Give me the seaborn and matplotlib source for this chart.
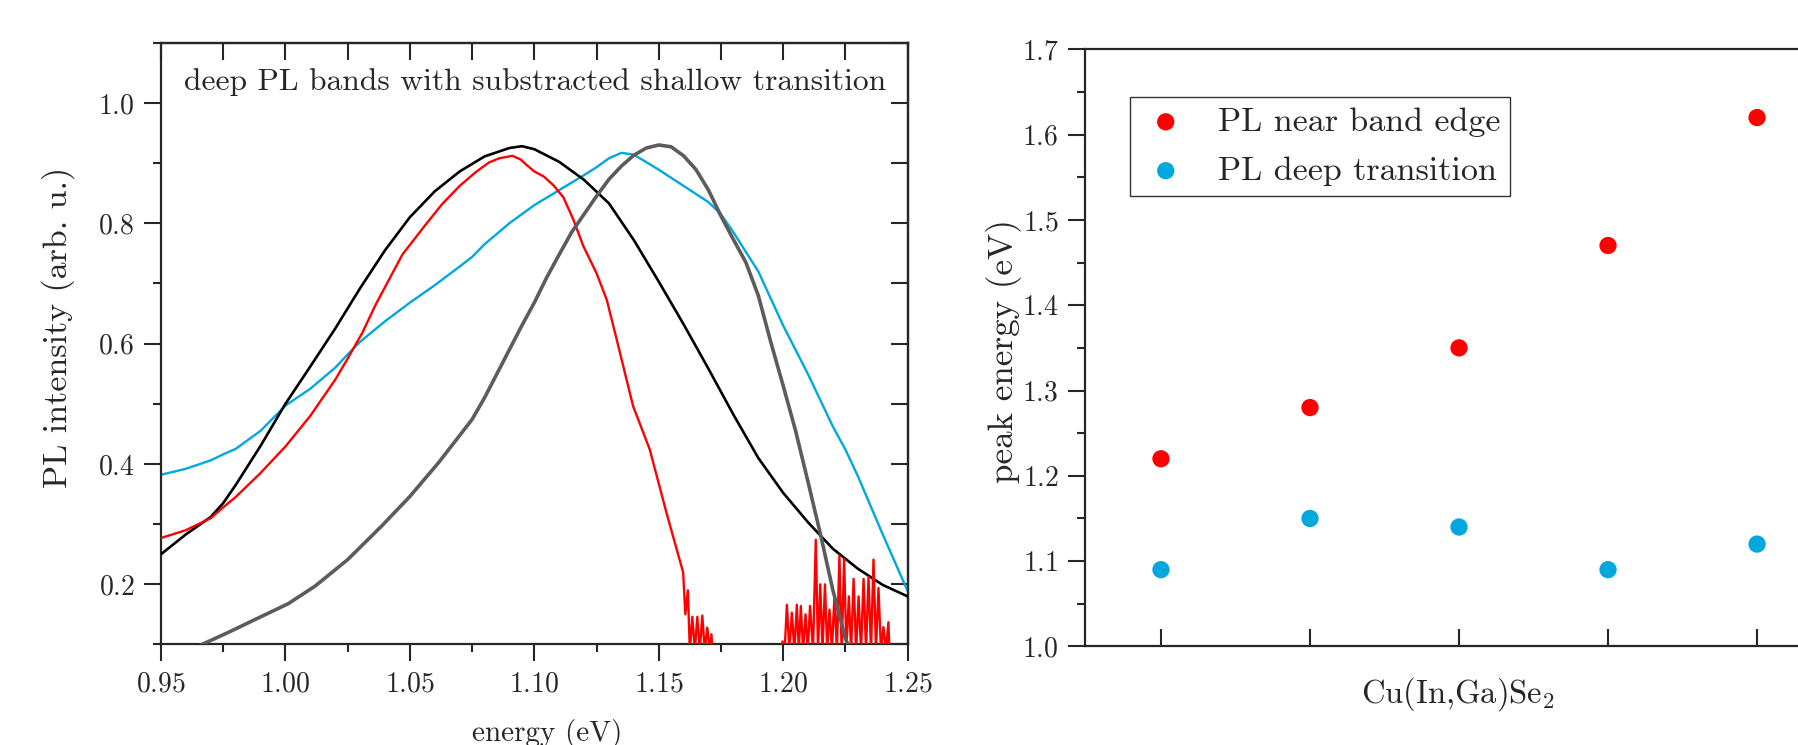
import numpy as np
import matplotlib
matplotlib.use("Agg")
import matplotlib.pyplot as plt
import seaborn as sns
from matplotlib.ticker import MultipleLocator, FixedLocator

# ---------------- data ----------------
black_E = [0.95, 0.96, 0.97, 0.975, 0.98, 0.99, 1.00, 1.01, 1.02, 1.03, 1.04, 1.05,
           1.06, 1.07, 1.08, 1.09, 1.095, 1.10, 1.11, 1.12, 1.13, 1.14, 1.15, 1.16,
           1.17, 1.18, 1.19, 1.20, 1.21, 1.22, 1.23, 1.24, 1.25]
black_I = [0.250, 0.283, 0.312, 0.335, 0.365, 0.430, 0.500, 0.562, 0.625, 0.692, 0.755, 0.810,
           0.853, 0.886, 0.911, 0.925, 0.928, 0.923, 0.902, 0.872, 0.833, 0.772, 0.703, 0.632,
           0.558, 0.482, 0.410, 0.352, 0.303, 0.259, 0.226, 0.199, 0.180]

cyan_E = [0.95, 0.96, 0.97, 0.975, 0.98, 0.99, 1.00, 1.01, 1.02, 1.025, 1.03, 1.04, 1.05,
          1.06, 1.07, 1.075, 1.08, 1.09, 1.10, 1.11, 1.12, 1.125, 1.13, 1.135, 1.14, 1.15,
          1.16, 1.17, 1.175, 1.18, 1.19, 1.20, 1.21, 1.22, 1.225, 1.23, 1.24, 1.25]
cyan_I = [0.382, 0.392, 0.406, 0.416, 0.425, 0.455, 0.497, 0.525, 0.560, 0.582, 0.603, 0.637, 0.668,
          0.697, 0.728, 0.744, 0.765, 0.800, 0.830, 0.855, 0.880, 0.893, 0.908, 0.917, 0.914, 0.889,
          0.862, 0.835, 0.815, 0.785, 0.720, 0.630, 0.549, 0.462, 0.424, 0.380, 0.283, 0.189]

red_E = [0.95, 0.96, 0.97, 0.975, 0.98, 0.99, 1.00, 1.01, 1.02, 1.025, 1.0309, 1.0363, 1.047,
         1.0564, 1.063, 1.07, 1.0765, 1.0818, 1.086, 1.0912, 1.0945, 1.0966, 1.10, 1.1037,
         1.1077, 1.1117, 1.1157, 1.1197, 1.125, 1.1291, 1.1331, 1.1397, 1.1464, 1.1531, 1.1598,
         1.1607, 1.1617, 1.1625, 1.1635, 1.1645, 1.1655, 1.1665, 1.1675, 1.1685, 1.1695,
         1.1705, 1.1712, 1.172, 1.199,
         1.1997, 1.2006, 1.2015, 1.2025, 1.2035, 1.2045, 1.2055, 1.2063, 1.2071, 1.2080,
         1.2090, 1.2099, 1.2108, 1.2120, 1.2131, 1.2140, 1.2149, 1.2158, 1.2168, 1.2177,
         1.2186, 1.2196, 1.2206, 1.2216, 1.2226, 1.2235, 1.2245, 1.2254, 1.2264, 1.2273,
         1.2283, 1.2293, 1.2303, 1.2313, 1.2323, 1.2333, 1.2343, 1.2353, 1.2363, 1.2373,
         1.2383, 1.2393, 1.2403, 1.2413, 1.2423, 1.2430, 1.25]
red_I = [0.277, 0.290, 0.310, 0.328, 0.345, 0.385, 0.429, 0.480, 0.540, 0.575, 0.618, 0.665, 0.748,
         0.798, 0.832, 0.862, 0.885, 0.901, 0.908, 0.912, 0.906, 0.898, 0.886, 0.878,
         0.863, 0.843, 0.806, 0.762, 0.717, 0.673, 0.607, 0.496, 0.424, 0.319, 0.220,
         0.150, 0.190, 0.090, 0.146, 0.090, 0.146, 0.090, 0.148, 0.090, 0.128,
         0.090, 0.117, 0.050, 0.050,
         0.105, 0.090, 0.166, 0.090, 0.153, 0.090, 0.166, 0.090, 0.164, 0.090,
         0.150, 0.090, 0.164, 0.090, 0.274, 0.090, 0.200, 0.090, 0.200, 0.090,
         0.158, 0.090, 0.180, 0.090, 0.248, 0.090, 0.242, 0.090, 0.180, 0.090,
         0.209, 0.090, 0.180, 0.090, 0.209, 0.090, 0.212, 0.090, 0.241, 0.090,
         0.194, 0.090, 0.129, 0.090, 0.137, 0.050, 0.050]

gray_E = [0.95, 0.9664, 0.977, 0.9878, 1.0012, 1.0119, 1.025, 1.0387, 1.050, 1.0615, 1.075,
          1.08, 1.085, 1.09, 1.095, 1.10, 1.105, 1.11, 1.115, 1.12, 1.125, 1.13, 1.135,
          1.14, 1.145, 1.15, 1.155, 1.16, 1.165, 1.17, 1.175, 1.18, 1.185, 1.19, 1.195,
          1.20, 1.205, 1.21, 1.215, 1.22, 1.225, 1.23]
gray_I = [0.075, 0.100, 0.120, 0.1415, 0.168, 0.197, 0.241, 0.297, 0.346, 0.402, 0.474,
          0.510, 0.550, 0.590, 0.630, 0.668, 0.710, 0.748, 0.785, 0.815, 0.845, 0.873, 0.895,
          0.913, 0.925, 0.930, 0.927, 0.912, 0.889, 0.855, 0.812, 0.773, 0.735, 0.680, 0.603,
          0.530, 0.455, 0.370, 0.283, 0.190, 0.110, 0.060]

samples = [1, 2, 3, 4, 5]
near_edge = [1.22, 1.28, 1.35, 1.47, 1.62]
deep_trans = [1.09, 1.15, 1.14, 1.09, 1.12]

annotation = "deep PL bands with substracted shallow transition"

# ---------------- style ----------------
sns.set_style("ticks")
plt.rcParams["font.family"] = ["serif"]
plt.rcParams["font.serif"] = ["cmr10"]
plt.rcParams["mathtext.fontset"] = "cm"
plt.rcParams["axes.formatter.use_mathtext"] = True
plt.rcParams["axes.unicode_minus"] = False

RED = "#ff0000"
CYAN = "#00a8dd"
GRAY = "#5c5c5c"
TICK_FS = 20

fig = plt.figure(figsize=(17.99, 7.45), dpi=100)
ax1 = fig.add_axes([0.0895, 0.1349, 0.4150, 0.8078])
ax2 = fig.add_axes([0.6031, 0.1323, 0.4150, 0.8015])

# ---------------- left panel ----------------
sns.lineplot(x=cyan_E, y=cyan_I, ax=ax1, color=CYAN, linewidth=1.7, zorder=2)
sns.lineplot(x=black_E, y=black_I, ax=ax1, color="black", linewidth=1.9, zorder=3)
sns.lineplot(x=red_E, y=red_I, ax=ax1, color=RED, linewidth=1.7, zorder=4)
sns.lineplot(x=gray_E, y=gray_I, ax=ax1, color=GRAY, linewidth=2.6, zorder=5)

ax1.set_xlim(0.95, 1.25)
ax1.set_ylim(0.1, 1.1)
ax1.xaxis.set_major_locator(MultipleLocator(0.05))
ax1.xaxis.set_minor_locator(MultipleLocator(0.025))
ax1.yaxis.set_major_locator(MultipleLocator(0.2))
ax1.yaxis.set_minor_locator(MultipleLocator(0.1))
ax1.tick_params(which="major", direction="out", length=12, width=1.5,
                labelsize=TICK_FS, pad=7)
ax1.tick_params(which="minor", direction="out", length=6, width=1.5)
for s in ax1.spines.values():
    s.set_linewidth(1.6)

top = ax1.secondary_xaxis("top")
top.xaxis.set_major_locator(MultipleLocator(0.025))
top.tick_params(direction="in", length=12, width=1.5, labeltop=False)
top.spines["top"].set_linewidth(1.6)
right = ax1.secondary_yaxis("right")
right.yaxis.set_major_locator(MultipleLocator(0.1))
right.tick_params(direction="in", length=12, width=1.5, labelright=False)
right.spines["right"].set_linewidth(1.6)

ax1.text(0.031, 0.935, annotation, transform=ax1.transAxes, fontsize=22.7,
         ha="left", va="center")
ax1.set_xlabel("energy (eV)", fontsize=21, va="center", ha="center")
ax1.xaxis.set_label_coords(0.517, -0.1475)
ax1.set_ylabel("PL intensity (arb. u.)", fontsize=24.5, va="center", ha="center")
ax1.yaxis.set_label_coords(-0.138, 0.527)

# ---------------- right panel ----------------
sns.scatterplot(x=samples, y=near_edge, ax=ax2, color=RED, s=155, edgecolor="none",
                label="PL near band edge", zorder=3)
sns.scatterplot(x=samples, y=deep_trans, ax=ax2, color=CYAN, s=155, edgecolor="none",
                label="PL deep transition", zorder=3)
ax2.set_xlim(0.49, 5.5)
ax2.set_ylim(1.0, 1.7)
ax2.xaxis.set_major_locator(FixedLocator(samples))
ax2.set_xticklabels([])
ax2.yaxis.set_major_locator(MultipleLocator(0.1))
ax2.yaxis.set_minor_locator(MultipleLocator(0.05))
ax2.tick_params(axis="x", which="major", direction="in", length=12, width=1.5)
ax2.tick_params(axis="y", which="major", direction="out", length=12, width=1.5,
                labelsize=TICK_FS, pad=7)
ax2.tick_params(axis="y", which="minor", direction="out", length=6, width=1.5)
for s in ax2.spines.values():
    s.set_linewidth(1.6)

ax2.set_xlabel("Cu(In,Ga)Se$_2$", fontsize=23.5, va="center", ha="center")
ax2.xaxis.set_label_coords(0.5, -0.0797)
ax2.set_ylabel("peak energy (eV)", fontsize=25.3, va="center", ha="center")
ax2.yaxis.set_label_coords(-0.109, 0.495)

leg = ax2.legend(loc="upper left", bbox_to_anchor=(0.0603, 0.9206), fontsize=24.5,
                 frameon=True, fancybox=False, framealpha=1, edgecolor="#333333",
                 borderpad=0.3, handletextpad=0.78, labelspacing=0.56,
                 handlelength=1.5, borderaxespad=0)
leg.get_frame().set_linewidth(1.0)

fig.savefig("out.png", dpi=100)
